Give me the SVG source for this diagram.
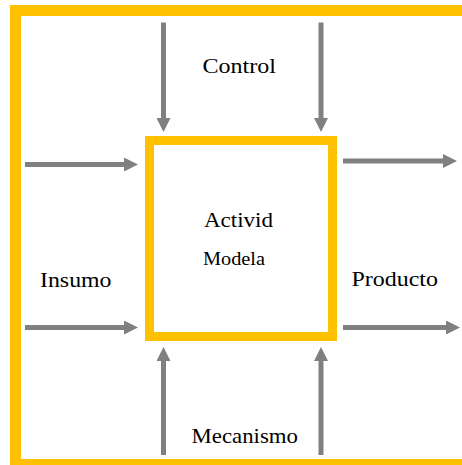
<svg xmlns="http://www.w3.org/2000/svg" width="462" height="465" viewBox="0 0 462 465">
  <defs>
    <marker id="ah" viewBox="0 0 14 14" refX="0" refY="7" markerWidth="14" markerHeight="14" markerUnits="userSpaceOnUse" orient="auto">
      <path d="M0,0 L14,7 L0,14 z" fill="#808080"/>
    </marker>
    <style>
      .frame { fill: none; stroke: #FFC000; }
      .conn { stroke: #808080; stroke-width: 5; fill: none; marker-end: url(#ah); }
      text { font-family: 'Liberation Serif', 'DejaVu Serif', serif; fill: #000000; }
    </style>
  </defs>
  <rect width="462" height="465" fill="#ffffff"/>
  <g id="frame">
    <rect class="frame" x="15.5" y="10.5" width="470" height="454" stroke-width="11"/>
  </g>
  <g id="connectors">
    <line class="conn" x1="163.5" y1="22.5" x2="163.5" y2="118"/>
    <line class="conn" x1="321" y1="22.5" x2="321" y2="118"/>
    <line class="conn" x1="163.5" y1="455" x2="163.5" y2="361"/>
    <line class="conn" x1="321" y1="455" x2="321" y2="361"/>
    <line class="conn" x1="25" y1="164.5" x2="124" y2="164.5"/>
    <line class="conn" x1="25" y1="327.5" x2="124" y2="327.5"/>
    <line class="conn" x1="343" y1="161" x2="443" y2="161"/>
    <line class="conn" x1="343" y1="327.5" x2="446" y2="327.5"/>
  </g>
  <g id="activity">
    <rect class="frame" x="149.5" y="140.5" width="183" height="196" stroke-width="9"/>
    <text x="204" y="227" font-size="22" textLength="69" lengthAdjust="spacingAndGlyphs">Activid</text>
    <text x="203" y="265" font-size="18" textLength="62" lengthAdjust="spacingAndGlyphs">Modela</text>
  </g>
  <g id="control">
    <text x="202.5" y="72.5" font-size="22" textLength="73.5" lengthAdjust="spacingAndGlyphs">Control</text>
  </g>
  <g id="insumo">
    <text x="40" y="286.5" font-size="22" textLength="71.5" lengthAdjust="spacingAndGlyphs">Insumo</text>
  </g>
  <g id="producto">
    <text x="351.5" y="285.5" font-size="22" textLength="86.5" lengthAdjust="spacingAndGlyphs">Producto</text>
  </g>
  <g id="mecanismo">
    <text x="191.5" y="442.5" font-size="22" textLength="106.5" lengthAdjust="spacingAndGlyphs">Mecanismo</text>
  </g>
</svg>
